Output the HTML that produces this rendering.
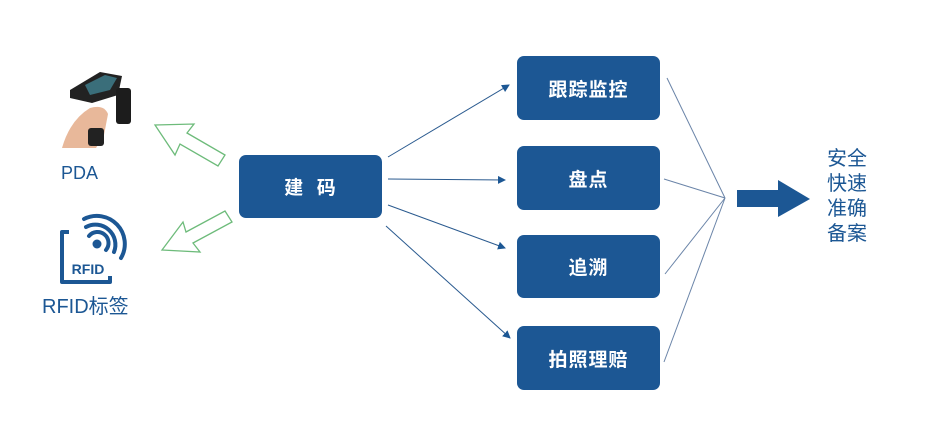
<!DOCTYPE html>
<html><head><meta charset="utf-8"><style>
body{margin:0;background:#fff;width:925px;height:433px;overflow:hidden;font-family:"Liberation Sans","Noto Sans CJK SC",sans-serif}
.b{position:absolute;background:#1c5794;border-radius:7px;color:#fff;font-size:19px;font-weight:bold;display:flex;align-items:center;justify-content:center;letter-spacing:1px}
.t{position:absolute;color:#1c5794}
</style></head><body>
<svg width="925" height="433" style="position:absolute;left:0;top:0">
<defs><marker id="a" markerWidth="8" markerHeight="8" refX="7" refY="4" orient="auto" markerUnits="userSpaceOnUse"><path d="M0,0 L8,4 L0,8z" fill="#1c5794"/></marker></defs>
<g stroke="#2a5a8f" stroke-width="1" fill="none">
<line x1="388" y1="157" x2="509" y2="85" marker-end="url(#a)"/>
<line x1="388" y1="179" x2="505" y2="180" marker-end="url(#a)"/>
<line x1="388" y1="205" x2="505" y2="248" marker-end="url(#a)"/>
<line x1="386" y1="226" x2="510" y2="338" marker-end="url(#a)"/>
</g>
<g stroke="#6a84a8" stroke-width="1" fill="none">
<line x1="667" y1="78" x2="725" y2="198"/>
<line x1="664" y1="179" x2="725" y2="198"/>
<line x1="665" y1="274" x2="725" y2="198"/>
<line x1="664" y1="362" x2="725" y2="198"/>
</g>
<path d="M737,190 L778,190 L778,180 L810,199 L778,217 L778,207 L737,207z" fill="#1c5794"/>
<g fill="none" stroke="#6dbb7a" stroke-width="1.3">
<path d="M155,125 L194,124 L187,133 L225,155 L218,166 L180,144 L175,155z"/>
<path d="M162,250 L200,252 L193,243 L232,222 L225,211 L186,232 L183,222z"/>
</g>
<path d="M70,90 L100,72 L122,76 L118,95 L92,103 L70,98z" fill="#222"/>
<path d="M85,85 L105,75 L117,78 L110,90 L90,95z" fill="#3a6e7a"/>
<rect x="116" y="88" width="15" height="36" rx="3" fill="#1c1c1c"/>
<path d="M62,148 Q70,120 90,108 Q104,104 108,114 L104,135 L96,148z" fill="#e8b89a"/>
<rect x="88" y="128" width="16" height="18" rx="3" fill="#222"/>
<path d="M69,232 L62,232 L62,282 L110,282 L110,276" fill="none" stroke="#1c5794" stroke-width="4" stroke-linejoin="round"/>
<text x="88" y="274" font-size="14" font-weight="bold" fill="#1c5794" text-anchor="middle" font-family="Liberation Sans">RFID</text>
<circle cx="97" cy="244" r="4.5" fill="#1c5794"/>
<g fill="none" stroke="#1c5794" stroke-width="4" stroke-linecap="round">
<path d="M89,236 A11,11 0 0 1 106,250"/>
<path d="M86,227 A20,20 0 0 1 114,252"/>
<path d="M84,219 A28,28 0 0 1 121,258"/>
</g>
</svg>
<div class="b" style="left:239px;top:155px;width:143px;height:63px">建&nbsp;&nbsp;码</div>
<div class="b" style="left:517px;top:56px;width:143px;height:64px">跟踪监控</div>
<div class="b" style="left:517px;top:146px;width:143px;height:64px">盘点</div>
<div class="b" style="left:517px;top:235px;width:143px;height:63px">追溯</div>
<div class="b" style="left:517px;top:326px;width:143px;height:64px">拍照理赔</div>
<div class="t" style="left:61px;top:163px;font-size:18px">PDA</div>
<div class="t" style="left:42px;top:290px;font-size:20px">RFID标签</div>
<div class="t" style="left:827px;top:147px;font-size:20px;line-height:25px;width:44px">安全<br>快速<br>准确<br>备案</div>
</body></html>
